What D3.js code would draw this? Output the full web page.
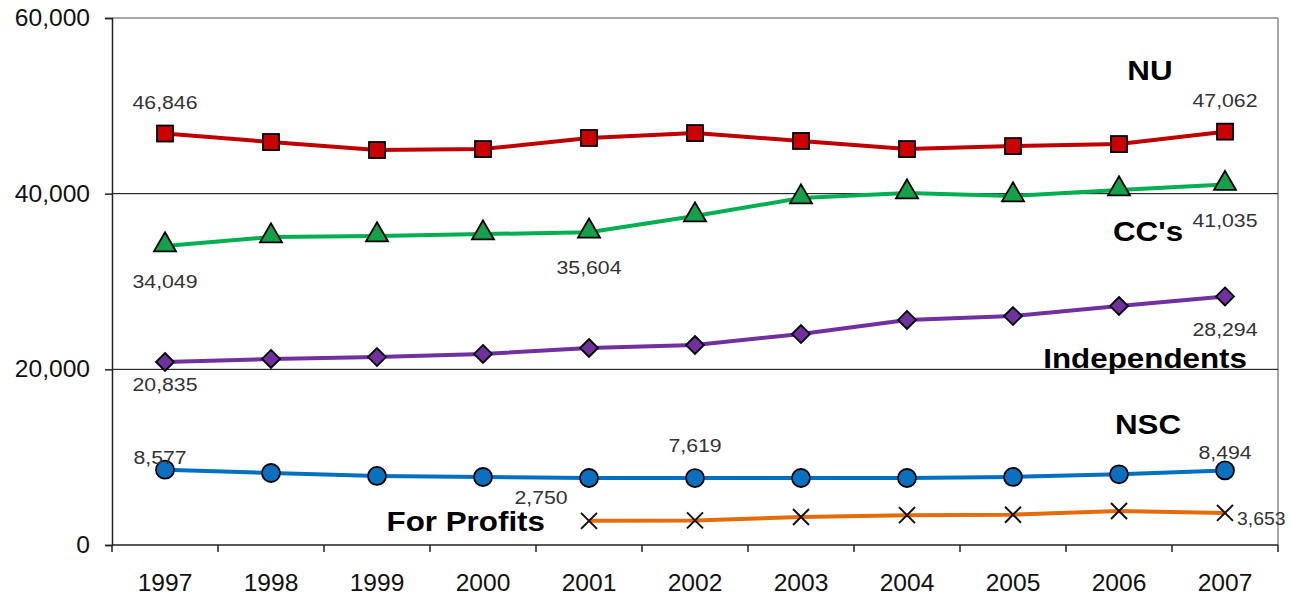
<!DOCTYPE html>
<html>
<head>
<meta charset="utf-8">
<script src="https://cdn.jsdelivr.net/npm/d3@7"></script>
<style>
  body { margin: 0; background: #fff; }
  svg { font-family: Arial, "Liberation Sans", sans-serif; }
</style>
</head>
<body>
<svg width="1291" height="596"></svg>
<script>
// data
var years = ["1997","1998","1999","2000","2001","2002","2003","2004","2005","2006","2007"];
var nu = [46846, 45880, 44970, 45080, 46340, 46900, 46000, 45080, 45420, 45650, 47062];
var ccs = [34049, 35060, 35180, 35400, 35604, 37450, 39500, 40070, 39730, 40420, 41035];
var independents = [20835, 21180, 21400, 21750, 22430, 22770, 24020, 25620, 26070, 27210, 28294];
var nsc = [8577, 8200, 7860, 7740, 7630, 7619, 7630, 7630, 7750, 8050, 8494];
var forProfits = [null, null, null, null, 2750, 2800, 3190, 3400, 3450, 3870, 3653];
var yTicks = [0, 20000, 40000, 60000];

var svg = d3.select("svg");
var margin = {left: 112, right: 13, top: 18, bottom: 51};
var width = 1291, height = 596;

var x = d3.scalePoint().domain(years).range([margin.left, width - margin.right]).padding(0.5);
var step = x.step();
var y = d3.scaleLinear().domain([0, 60000]).range([height - margin.bottom, margin.top]);

// text slightly stretched sideways, as in the original slide
function wideText(g, txt, xx, yy, size, sx, anchor) {
  return g.append("text")
    .attr("transform", "translate(" + xx + "," + yy + ") scale(" + sx + ",1)")
    .attr("text-anchor", anchor || "middle")
    .attr("font-size", size)
    .text(txt);
}

// frame
svg.append("line").attr("x1", margin.left).attr("x2", width - margin.right)
  .attr("y1", y(60000)).attr("y2", y(60000)).attr("stroke", "#888").attr("stroke-width", 1.5);
svg.append("line").attr("x1", width - margin.right).attr("x2", width - margin.right)
  .attr("y1", y(60000)).attr("y2", y(0)).attr("stroke", "#888").attr("stroke-width", 1.5);

// gridlines
[20000, 40000].forEach(function(v){
  svg.append("line").attr("x1", margin.left).attr("x2", width - margin.right)
    .attr("y1", y(v)).attr("y2", y(v)).attr("stroke", "#000").attr("stroke-width", 1);
});

// y axis
var yAxis = svg.append("g").attr("transform", "translate(" + margin.left + ",0)")
  .call(d3.axisLeft(y).tickValues(yTicks).tickSize(7).tickFormat(""));
yAxis.select(".domain").attr("stroke", "#222").attr("stroke-width", 1.5);
yAxis.selectAll(".tick line").attr("stroke", "#222").attr("stroke-width", 1.5);
yTicks.forEach(function(v){
  wideText(svg, d3.format(",")(v), 90, y(v) + 8, 23, 1.07, "end").attr("fill", "#111");
});

// x axis with ticks at band edges
var xAxisG = svg.append("g").attr("transform", "translate(0," + y(0) + ")");
xAxisG.append("line").attr("x1", margin.left).attr("x2", width - margin.right)
  .attr("stroke", "#222").attr("stroke-width", 1.5);
d3.range(years.length + 1).forEach(function(i){
  var xx = margin.left + i * step;
  xAxisG.append("line").attr("x1", xx).attr("x2", xx).attr("y1", 0).attr("y2", 7)
    .attr("stroke", "#222").attr("stroke-width", 1.5);
});
years.forEach(function(d){
  wideText(xAxisG, d, x(d), 46, 23, 1.07).attr("fill", "#111");
});

function drawLine(values, color) {
  var line = d3.line()
    .defined(function(d){ return d != null; })
    .x(function(d, i){ return x(years[i]); })
    .y(function(d){ return y(d); });
  svg.append("path").datum(values)
    .attr("d", line)
    .attr("fill", "none")
    .attr("stroke", color)
    .attr("stroke-width", 4)
    .attr("stroke-linejoin", "round");
}

function pts(values) {
  return values.map(function(v, i){ return {v: v, yr: years[i]}; })
    .filter(function(d){ return d.v != null; });
}

drawLine(nu, "#c00000");
drawLine(ccs, "#00b050");
drawLine(independents, "#7030a0");
drawLine(nsc, "#0070c0");
drawLine(forProfits, "#e46c0a");

// markers
svg.append("g").selectAll("rect").data(pts(nu)).enter().append("rect")
  .attr("x", function(d){ return x(d.yr) - 8; })
  .attr("y", function(d){ return y(d.v) - 8; })
  .attr("width", 16).attr("height", 16)
  .attr("fill", "#cc0000").attr("stroke", "#000").attr("stroke-width", 1.8);

svg.append("g").selectAll("path").data(pts(ccs)).enter().append("path")
  .attr("d", d3.symbol().type(d3.symbolTriangle).size(210))
  .attr("transform", function(d){ return "translate(" + x(d.yr) + "," + (y(d.v) - 1) + ")"; })
  .attr("fill", "#13a14a").attr("stroke", "#000").attr("stroke-width", 1.8);

svg.append("g").selectAll("path").data(pts(independents)).enter().append("path")
  .attr("d", "M0,-9L9,0L0,9L-9,0Z")
  .attr("transform", function(d){ return "translate(" + x(d.yr) + "," + y(d.v) + ")"; })
  .attr("fill", "#7030a0").attr("stroke", "#000").attr("stroke-width", 1.8);

svg.append("g").selectAll("circle").data(pts(nsc)).enter().append("circle")
  .attr("cx", function(d){ return x(d.yr); })
  .attr("cy", function(d){ return y(d.v); })
  .attr("r", 9)
  .attr("fill", "#0a70c0").attr("stroke", "#000").attr("stroke-width", 1.8);

svg.append("g").selectAll("path").data(pts(forProfits)).enter().append("path")
  .attr("d", "M-8,-8L8,8M8,-8L-8,8")
  .attr("transform", function(d){ return "translate(" + x(d.yr) + "," + y(d.v) + ")"; })
  .attr("fill", "none").attr("stroke", "#111").attr("stroke-width", 2);

// data labels
function dataLabel(yr, v, dx, dy, anchor, sx) {
  wideText(svg, d3.format(",")(v), x(yr) + dx, y(v) + dy, 19, sx || 1.12, anchor)
    .attr("fill", "#333");
}
dataLabel("1997", nu[0], 0, -25);
dataLabel("2007", nu[10], 0, -25);
dataLabel("1997", ccs[0], 0, 42);
dataLabel("2001", ccs[4], 0, 42);
dataLabel("2007", ccs[10], 0, 42);
dataLabel("2007", independents[10], 0, 40);
dataLabel("1997", independents[0], 0, 29);
dataLabel("1997", nsc[0], -5, -6);
dataLabel("2002", nsc[5], 0, -26);
dataLabel("2007", nsc[10], 0, -11);
dataLabel("2001", forProfits[4], -48, -17);
dataLabel("2007", forProfits[10], 12, 12, "start", 1.02);

// series labels
function seriesLabel(txt, xx, yy, anchor) {
  wideText(svg, txt, xx, yy, 28, 1.12, anchor)
    .attr("font-weight", "bold")
    .attr("fill", "#000");
}
seriesLabel("NU", 1150, 80);
seriesLabel("CC's", 1148, 241);
seriesLabel("Independents", 1247, 368, "end");
seriesLabel("NSC", 1148, 434);
seriesLabel("For Profits", 545, 531, "end");
</script>
</body>
</html>
